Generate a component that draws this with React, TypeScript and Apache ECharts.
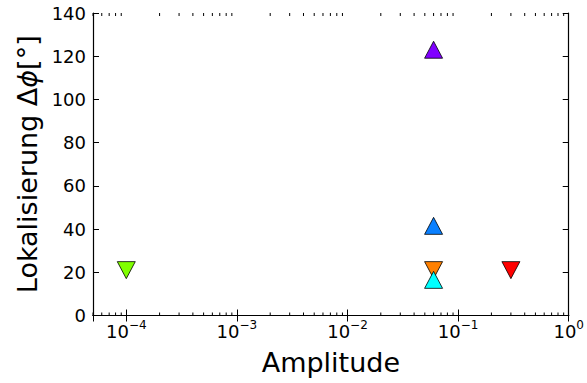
import React, { useEffect, useRef } from 'react';
import * as echarts from 'echarts';

// Data
const amplitudes = [0.06, 0.06, 0.06, 0.06, 0.0001, 0.3];
const localization = [123, 41.5, 21, 16.5, 21, 21];
const pointColors = ['#8000ff', '#0a80ff', '#ff8000', '#00ffff', '#80ff00', '#ff0000'];
const pointMarkers = ['up', 'up', 'down', 'up', 'down', 'down'];

const xMin = 5e-5;
const xMax = 1;
const yMin = 0;
const yMax = 140;
const yInterval = 20;

const FONT = 'DejaVu Sans';

function minorLogTicks(lo: number, hi: number): number[] {
  const out: number[] = [];
  for (let e = Math.floor(Math.log10(lo)); e < Math.ceil(Math.log10(hi)); e++) {
    for (let m = 2; m <= 9; m++) {
      const v = m * Math.pow(10, e);
      if (v >= lo && v <= hi) out.push(v);
    }
  }
  return out;
}

export default function App() {
  const ref = useRef<HTMLDivElement>(null);
  useEffect(() => {
    if (!ref.current) return;
    const chart = echarts.init(ref.current, null, { renderer: 'svg' });
    const minor = minorLogTicks(xMin, xMax);
    const scatterSeries = amplitudes.map((a, i) => ({
      type: 'scatter',
      xAxisIndex: 0,
      yAxisIndex: 0,
      data: [[a, localization[i]]],
      symbol: 'triangle',
      symbolSize: [18, 17],
      symbolRotate: pointMarkers[i] === 'down' ? 180 : 0,
      itemStyle: { color: pointColors[i], borderColor: '#000', borderWidth: 0.8, opacity: 1 },
      z: 3,
      silent: true,
    }));
    const logFormatter = (value: number) => {
      const e = Math.log10(value);
      if (Math.abs(e - Math.round(e)) > 1e-6) return '';
      const r = Math.round(e);
      const s = r < 0 ? '\u2212' + Math.abs(r) : String(r);
      return `{b|10}{s|${s}}`;
    };
    chart.setOption({
      animation: false,
      grid: { left: 93, right: 15, top: 13, bottom: 67.5, containLabel: false },
      xAxis: [
        {
          type: 'log',
          logBase: 10,
          min: xMin,
          max: xMax,
          position: 'bottom',
          name: 'Amplitude',
          nameLocation: 'middle',
          nameGap: 33,
          nameTextStyle: { fontFamily: FONT, fontSize: 27, color: '#000' },
          axisLine: { show: true, lineStyle: { color: '#000', width: 1.2 } },
          axisTick: { show: true, inside: true, length: 6, lineStyle: { color: '#000', width: 1 } },
          splitLine: { show: false },
          axisLabel: {
            show: true,
            margin: 3,
            formatter: logFormatter,
            showMinLabel: true,
            showMaxLabel: true,
            hideOverlap: false,
            rich: {
              b: { fontFamily: FONT, fontSize: 18, color: '#000', lineHeight: 26 },
              s: { fontFamily: FONT, fontSize: 12, color: '#000', lineHeight: 14, verticalAlign: 'top' },
            },
          },
        },
        {
          type: 'log',
          logBase: 10,
          min: xMin,
          max: xMax,
          position: 'top',
          axisLine: { show: true, lineStyle: { color: '#000', width: 1.2 } },
          axisTick: { show: true, inside: true, length: 6, lineStyle: { color: '#000', width: 1 } },
          axisLabel: { show: false },
          splitLine: { show: false },
        },
      ],
      yAxis: [
        {
          type: 'value',
          min: yMin,
          max: yMax,
          interval: yInterval,
          position: 'left',
          name: '{t|Lokalisierung }{t|\u0394}{i|\u03d5}{t|[\u00b0]}',
          nameLocation: 'middle',
          nameGap: 50,
          nameTextStyle: {
            rich: {
              t: { fontFamily: FONT, fontSize: 27, color: '#000' },
              i: { fontFamily: FONT, fontSize: 27, color: '#000', fontStyle: 'italic' },
            },
          },
          axisLine: { show: true, lineStyle: { color: '#000', width: 1.2 } },
          axisTick: { show: true, inside: true, length: 6, lineStyle: { color: '#000', width: 1 } },
          splitLine: { show: false },
          axisLabel: { show: true, margin: 7, fontFamily: FONT, fontSize: 18, color: '#000' },
        },
        {
          type: 'value',
          min: yMin,
          max: yMax,
          interval: yInterval,
          position: 'right',
          axisLine: { show: true, lineStyle: { color: '#000', width: 1.2 } },
          axisTick: { show: true, inside: true, length: 6, lineStyle: { color: '#000', width: 1 } },
          axisLabel: { show: false },
          splitLine: { show: false },
        },
      ],
      series: [
        {
          type: 'custom',
          xAxisIndex: 0,
          yAxisIndex: 0,
          silent: true,
          z: 1,
          data: minor.map((v) => [v, 0]),
          renderItem: (params: any, api: any) => {
            const x = api.coord([api.value(0), 0])[0];
            const cs = params.coordSys;
            const bottom = cs.y + cs.height;
            return {
              type: 'group',
              children: [
                { type: 'line', shape: { x1: x, y1: bottom, x2: x, y2: bottom - 3 }, style: { stroke: '#000', lineWidth: 1 } },
                { type: 'line', shape: { x1: x, y1: cs.y, x2: x, y2: cs.y + 3 }, style: { stroke: '#000', lineWidth: 1 } },
              ],
            };
          },
        },
        ...scatterSeries,
      ],
    });
    return () => chart.dispose();
  }, []);
  return (
    <div
      ref={ref}
      style={{ position: 'fixed', left: 0, top: 0, width: 587, height: 383, background: '#fff' }}
    />
  );
}
